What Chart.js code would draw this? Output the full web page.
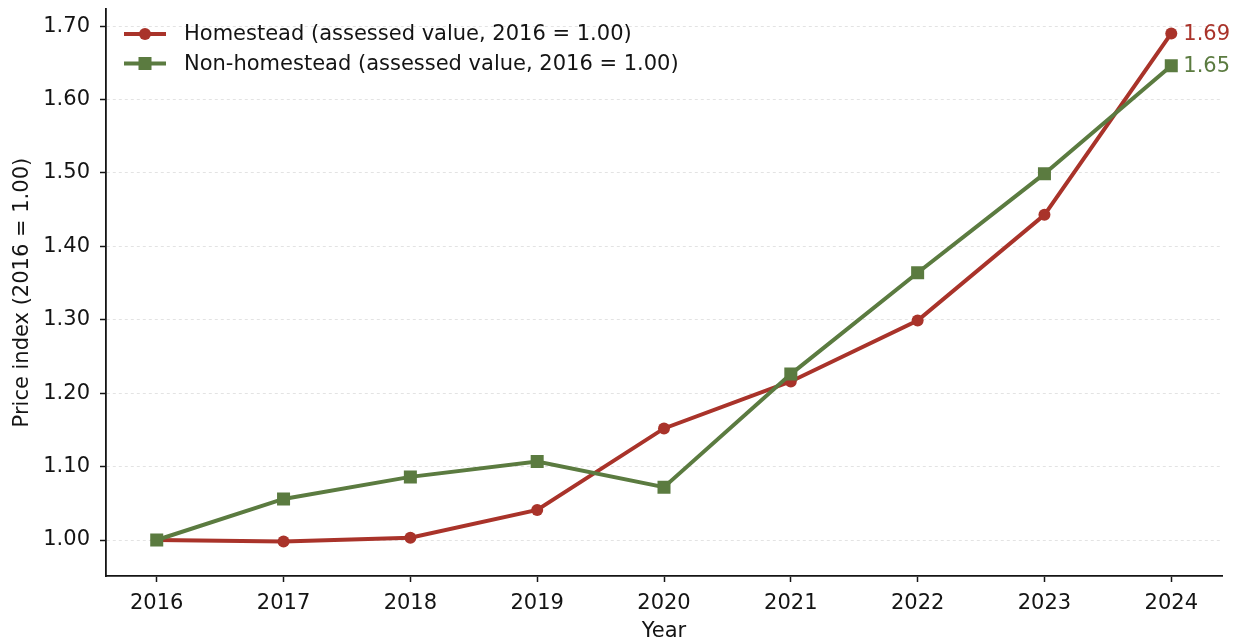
<!DOCTYPE html>
<html>
<head>
<meta charset="utf-8">
<script src="https://cdn.jsdelivr.net/npm/chart.js@4"></script>
<style>
  html, body { margin: 0; padding: 0; background: #fff; }
  #wrap { width: 1240px; height: 644px; }
</style>
</head>
<body>
<div id="wrap"><canvas id="c" width="1240" height="644"></canvas></div>
<script>
const years = [2016, 2017, 2018, 2019, 2020, 2021, 2022, 2023, 2024];
const homestead = [1.000, 0.998, 1.003, 1.041, 1.152, 1.216, 1.299, 1.443, 1.690];
const nonHomestead = [1.000, 1.056, 1.086, 1.107, 1.072, 1.226, 1.364, 1.499, 1.646];
const yTickValues = [1.00, 1.10, 1.20, 1.30, 1.40, 1.50, 1.60, 1.70];
const seriesNames = ['Homestead (assessed value, 2016 = 1.00)', 'Non-homestead (assessed value, 2016 = 1.00)'];

const RED = '#a9332a';
const GREEN = '#5b7b40';
const INK = '#141414';
const FONT = '"DejaVu Sans", sans-serif';
const FS = 21;

// legend with line + marker swatches, drawn in the upper-left of the plot
const legendPlugin = {
  id: 'lineLegend',
  afterDraw(chart) {
    const ctx = chart.ctx;
    const area = chart.chartArea;
    const items = chart.data.datasets.map(ds => ({ label: ds.label, color: ds.borderColor, style: ds.pointStyle }));
    ctx.save();
    ctx.font = FS + 'px ' + FONT;
    ctx.textBaseline = 'middle';
    items.forEach((it, i) => {
      const y = 34 + i * 29.5;
      const x0 = area.left + 18;
      ctx.strokeStyle = it.color;
      ctx.lineWidth = 4;
      ctx.beginPath();
      ctx.moveTo(x0, y);
      ctx.lineTo(x0 + 42, y);
      ctx.stroke();
      ctx.fillStyle = it.color;
      if (it.style === 'rect') {
        ctx.fillRect(x0 + 21 - 6.5, y - 6.5, 13, 13);
      } else {
        ctx.beginPath();
        ctx.arc(x0 + 21, y, 6, 0, Math.PI * 2);
        ctx.fill();
      }
      ctx.fillStyle = INK;
      ctx.fillText(it.label, x0 + 60, y + 1);
    });
    ctx.restore();
  }
};

// end-of-line value labels, placed from the last data value of each series
const endLabelPlugin = {
  id: 'endLabels',
  afterDatasetsDraw(chart) {
    const ctx = chart.ctx;
    ctx.save();
    ctx.font = FS + 'px ' + FONT;
    ctx.textBaseline = 'middle';
    chart.data.datasets.forEach((ds, i) => {
      const meta = chart.getDatasetMeta(i);
      const last = meta.data[meta.data.length - 1];
      const v = ds.data[ds.data.length - 1].y;
      ctx.fillStyle = ds.borderColor;
      ctx.fillText(v.toFixed(2), last.x + 12, last.y + 1);
    });
    ctx.restore();
  }
};

new Chart(document.getElementById('c'), {
  type: 'line',
  data: {
    datasets: [
      {
        label: seriesNames[0],
        data: years.map((y, i) => ({ x: y, y: homestead[i] })),
        borderColor: RED,
        backgroundColor: RED,
        borderWidth: 4,
        pointStyle: 'circle',
        pointRadius: 6,
        pointBorderWidth: 0,
        order: 1
      },
      {
        label: seriesNames[1],
        data: years.map((y, i) => ({ x: y, y: nonHomestead[i] })),
        borderColor: GREEN,
        backgroundColor: GREEN,
        borderWidth: 4,
        pointStyle: 'rect',
        pointRadius: 9.2,
        pointBorderWidth: 0,
        order: 0
      }
    ]
  },
  options: {
    responsive: false,
    animation: false,
    devicePixelRatio: 1,
    layout: { padding: { top: 2, right: 18, left: 0, bottom: 0 } },
    plugins: {
      legend: { display: false },
      tooltip: { enabled: false }
    },
    scales: {
      x: {
        type: 'linear',
        min: 2015.6,
        max: 2024.4,
        afterBuildTicks(scale) { scale.ticks = years.map(v => ({ value: v })); },
        afterFit(scale) { scale.height = 68; scale.paddingLeft = 0; scale.paddingRight = 0; },
        grid: { display: true, drawOnChartArea: false, tickLength: 6, tickColor: INK, tickWidth: 1.5 },
        border: { display: true, color: INK, width: 1.8 },
        ticks: {
          color: INK,
          font: { family: FONT, size: FS },
          padding: 9,
          maxRotation: 0,
          callback: v => String(v)
        },
        title: {
          display: true,
          text: 'Year',
          color: INK,
          font: { family: FONT, size: FS },
          padding: { top: 0, bottom: 0 }
        }
      },
      y: {
        type: 'linear',
        min: 0.951,
        max: 1.723,
        afterBuildTicks(scale) { scale.ticks = yTickValues.map(v => ({ value: v })); },
        afterFit(scale) { scale.width = 106; scale.paddingTop = 0; scale.paddingBottom = 0; },
        grid: {
          color: '#dcdcdc',
          lineWidth: 0.8,
          tickLength: 6,
          tickColor: INK,
          tickWidth: 1.5,
          tickBorderDash: []
        },
        border: { display: true, color: INK, width: 1.8, dash: [3, 3] },
        ticks: {
          color: INK,
          font: { family: FONT, size: FS },
          padding: 10,
          callback: v => Number(v).toFixed(2)
        },
        title: {
          display: true,
          text: 'Price index (2016 = 1.00)',
          color: INK,
          font: { family: FONT, size: FS },
          padding: { top: 10, bottom: 4 }
        }
      }
    }
  },
  plugins: [legendPlugin, endLabelPlugin]
});
</script>
</body>
</html>
